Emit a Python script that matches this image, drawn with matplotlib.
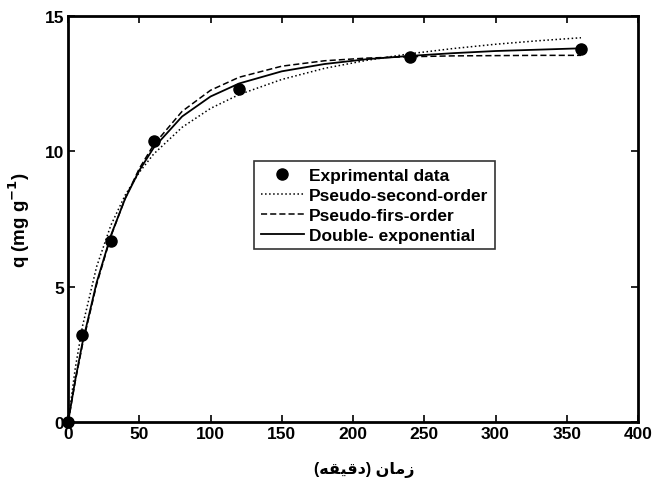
import matplotlib
matplotlib.use("Agg")
import matplotlib.pyplot as plt

# Experimental data
t_exp = [0, 10, 30, 60, 120, 240, 360]
q_exp = [0, 3.2, 6.7, 10.4, 12.3, 13.5, 13.8]

# Model curves
t_fit = [0, 5, 10, 20, 30, 40, 50, 60, 80, 100, 120, 150, 180, 210, 240, 270, 300, 330, 360]
q_pso = [0, 1.98, 3.52, 5.74, 7.27, 8.38, 9.23, 9.90, 10.89, 11.59, 12.10, 12.66, 13.07, 13.37, 13.61, 13.80, 13.96, 14.09, 14.20]
q_pfo = [0, 1.50, 2.84, 5.08, 6.86, 8.26, 9.37, 10.24, 11.48, 12.26, 12.74, 13.15, 13.35, 13.45, 13.50, 13.53, 13.54, 13.55, 13.55]
q_dexp = [0, 1.55, 2.91, 5.15, 6.89, 8.25, 9.30, 10.13, 11.29, 12.03, 12.51, 12.96, 13.23, 13.41, 13.53, 13.63, 13.71, 13.76, 13.81]

labels = ["Exprimental data", "Pseudo-second-order", "Pseudo-firs-order", "Double- exponential"]
x_ticks = [0, 50, 100, 150, 200, 250, 300, 350, 400]
y_ticks = [0, 5, 10, 15]

plt.rcParams['font.family'] = ['Liberation Sans', 'DejaVu Sans']
plt.rcParams['font.weight'] = 'bold'

fig = plt.figure(figsize=(6.55, 4.89), dpi=100)
ax = fig.add_axes([0.104, 0.135, 0.870, 0.830])

ax.plot(t_exp, q_exp, 'o', color='black', markersize=8, clip_on=False, zorder=5, label=labels[0])
ax.plot(t_fit, q_pso, ':', color='black', linewidth=1.1, label=labels[1])
ax.plot(t_fit, q_pfo, '--', color='black', linewidth=1.1, dashes=(4, 2), label=labels[2])
ax.plot(t_fit, q_dexp, '-', color='black', linewidth=1.3, label=labels[3])

ax.set_xlim(0, 400)
ax.set_ylim(0, 15)
ax.set_xticks(x_ticks)
ax.set_yticks(y_ticks)
ax.tick_params(direction='in', top=True, right=True, length=5, width=1.2, labelsize=12.5, pad=3)
for lab in ax.get_xticklabels() + ax.get_yticklabels():
    lab.set_fontweight('bold')
for s in ax.spines.values():
    s.set_linewidth(2)

# Arabic x-label in visual order with presentation forms: "زمان (دقيقه)"
xlabel = "(" + "\uFEEA\uFED8\uFEF4\uFED7\uFEA9" + ")" + " " + "\uFEE5\uFE8E\uFEE3\uFEAF"
ax.set_xlabel(xlabel, fontsize=11.5, fontweight='bold', labelpad=9)
ax.xaxis.set_label_coords(0.52, -0.095)
ax.set_ylabel(r'q (mg g$^{\mathbf{-1}}$)', fontsize=13.5, fontweight='bold', labelpad=9)

leg = ax.legend(loc='upper left', bbox_to_anchor=(0.327, 0.642), frameon=True, fancybox=False,
                edgecolor='black', prop={'weight': 'bold', 'size': 12.5},
                handlelength=2.5, handletextpad=0.3, borderpad=0.35, labelspacing=0.28,
                borderaxespad=0)
leg.get_frame().set_linewidth(1.2)

fig.savefig('out.png', dpi=100)
